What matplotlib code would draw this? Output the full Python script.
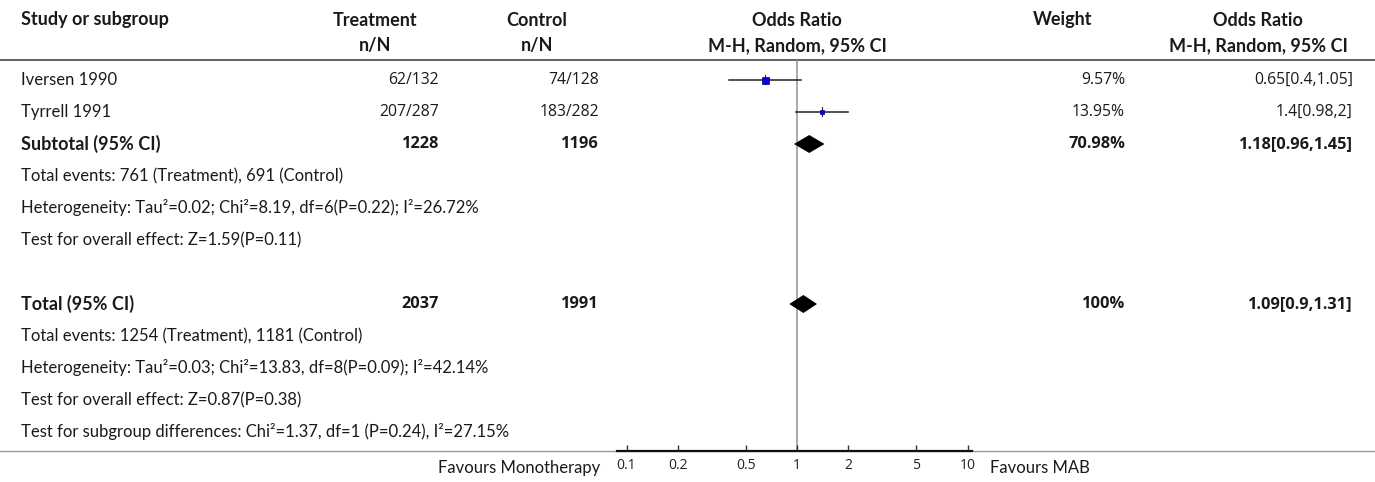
import matplotlib
matplotlib.use("Agg")
import matplotlib.pyplot as plt
from matplotlib.ticker import FixedLocator, NullLocator

plt.rcParams['font.family'] = ['Lato', 'DejaVu Sans']

# study rows
studies = ['Iversen 1990', 'Tyrrell 1991']
treat_nN = ['62/132', '207/287']
ctrl_nN = ['74/128', '183/282']
odds = [0.65, 1.4]
ci_low = [0.4, 0.98]
ci_high = [1.05, 2]
weights = [9.57, 13.95]

# pooled rows
subtotal = {'label': 'Subtotal (95% CI)', 'treat': 1228, 'ctrl': 1196,
            'weight': 70.98, 'or': 1.18, 'lo': 0.96, 'hi': 1.45}
total = {'label': 'Total (95% CI)', 'treat': 2037, 'ctrl': 1991,
         'weight': 100, 'or': 1.09, 'lo': 0.9, 'hi': 1.31}

subtotal_notes = [
    'Total events: 761 (Treatment), 691 (Control)',
    'Heterogeneity: Tau\u00b2=0.02; Chi\u00b2=8.19, df=6(P=0.22); I\u00b2=26.72%',
    'Test for overall effect: Z=1.59(P=0.11)',
]
total_notes = [
    'Total events: 1254 (Treatment), 1181 (Control)',
    'Heterogeneity: Tau\u00b2=0.03; Chi\u00b2=13.83, df=8(P=0.09); I\u00b2=42.14%',
    'Test for overall effect: Z=0.87(P=0.38)',
    'Test for subgroup differences: Chi\u00b2=1.37, df=1 (P=0.24), I\u00b2=27.15%',
]

tick_vals = [0.1, 0.2, 0.5, 1, 2, 5, 10]
tick_labels = ['0.1', '0.2', '0.5', '1', '2', '5', '10']

# layout in pixels
W, H = 1375, 482
ROW0, STEP = 80, 32
TOP_LINE, BOT_LINE = 60, 451
X_NAME = 21
X_TREAT, X_CTRL, X_WT, X_OR = 439, 599, 1125, 1353
C_TREAT, C_CTRL, C_PLOT, C_WT, C_OR = 375, 537, 797, 1063, 1258
PLOT_L, PLOT_R = 617, 972
TXT = '#1a1a1a'
NUM_FONT = ['Open Sans', 'DejaVu Sans']
square_px = [7, 5]

fig = plt.figure(figsize=(W / 100, H / 100), dpi=100)
ax = fig.add_axes([0, 0, 1, 1])
ax.set_xlim(0, W)
ax.set_ylim(H, 0)
ax.axis('off')


def row_y(i):
    return ROW0 + STEP * i


body = dict(fontsize=12, color=TXT, va='center')
bold = dict(fontsize=13, color=TXT, va='center', fontweight='bold')
num = dict(fontsize=11.3, color=TXT, va='center', family=NUM_FONT, ha='right')
num_bold = dict(num, fontsize=11.8, fontweight='bold')

# header
ax.text(X_NAME, 20, 'Study or subgroup', ha='left', **bold)
for cx, top, bottom in [(C_TREAT, 'Treatment', 'n/N'), (C_CTRL, 'Control', 'n/N'),
                        (C_PLOT, 'Odds Ratio', 'M-H, Random, 95% CI'),
                        (C_WT, 'Weight', ''),
                        (C_OR, 'Odds Ratio', 'M-H, Random, 95% CI')]:
    ax.text(cx, 20, top, ha='center', **bold)
    if bottom:
        ax.text(cx, 46, bottom, ha='center', **bold)

ax.plot([0, W], [TOP_LINE, TOP_LINE], color='#555555', lw=1.3)
ax.plot([0, W], [BOT_LINE, BOT_LINE], color='#999999', lw=1.0)

# study rows
for i, name in enumerate(studies):
    y = row_y(i)
    ax.text(X_NAME, y, name, ha='left', **body)
    ax.text(X_TREAT, y, treat_nN[i], **num)
    ax.text(X_CTRL, y, ctrl_nN[i], **num)
    ax.text(X_WT, y, f'{weights[i]:g}%', **num)
    ax.text(X_OR, y, f'{odds[i]:g}[{ci_low[i]:g},{ci_high[i]:g}]', **num)


def pooled_row(i, d):
    y = row_y(i)
    ax.text(X_NAME, y, d['label'], ha='left', **bold)
    ax.text(X_TREAT, y, str(d['treat']), **num_bold)
    ax.text(X_CTRL, y, str(d['ctrl']), **num_bold)
    ax.text(X_WT, y, f"{d['weight']:g}%", **num_bold)
    ax.text(X_OR, y, f"{d['or']:g}[{d['lo']:g},{d['hi']:g}]", **num_bold)


n = len(studies)
pooled_row(n, subtotal)
for j, note in enumerate(subtotal_notes):
    ax.text(X_NAME, row_y(n + 1 + j), note, ha='left', **body)
total_row = n + 1 + len(subtotal_notes) + 1
pooled_row(total_row, total)
for j, note in enumerate(total_notes):
    ax.text(X_NAME, row_y(total_row + 1 + j), note, ha='left', **body)

ax.text(600, 468, 'Favours Monotherapy', ha='right', **body)
ax.text(990, 468, 'Favours MAB', ha='left', **body)

# forest panel on a log scale
fa = fig.add_axes([PLOT_L / W, 1 - BOT_LINE / H, (PLOT_R - PLOT_L) / W, (BOT_LINE - TOP_LINE) / H])
fa.patch.set_alpha(0)
fa.set_xscale('log')
px_per_dec = (968 - 627) / 2
fa.set_xlim(10 ** ((PLOT_L - C_PLOT) / px_per_dec), 10 ** ((PLOT_R - C_PLOT) / px_per_dec))
fa.set_ylim(BOT_LINE, TOP_LINE)
for s in ['top', 'left', 'right']:
    fa.spines[s].set_visible(False)
fa.spines['bottom'].set_linewidth(1.6)
fa.spines['bottom'].set_color('#111111')
fa.yaxis.set_major_locator(NullLocator())
fa.xaxis.set_major_locator(FixedLocator(tick_vals))
fa.xaxis.set_minor_locator(NullLocator())
fa.set_xticklabels(tick_labels, family=NUM_FONT)
fa.tick_params(axis='x', direction='in', length=4, width=1, color='#333333',
               labelsize=10, labelcolor='#222222', pad=5)

fa.axvline(1, color='#999999', lw=1.2, zorder=1)

for i in range(n):
    y = row_y(i)
    fa.plot([ci_low[i], ci_high[i]], [y, y], color='#222222', lw=1.1, zorder=2)
    fa.plot([odds[i], odds[i]], [y - 4.5, y + 4.5], color='#222222', lw=0.8, zorder=3)
    fa.plot(odds[i], y, marker='s', ms=square_px[i] * 0.72, mfc='#0000ee',
            mec='#000080', mew=0.5, zorder=4)


def diamond(i, d):
    y = row_y(i)
    fa.fill([d['lo'], d['or'], d['hi'], d['or']], [y, y - 9, y, y + 9],
            color='black', zorder=4, lw=0)


diamond(n, subtotal)
diamond(total_row, total)

fig.savefig('out.png', dpi=100)
